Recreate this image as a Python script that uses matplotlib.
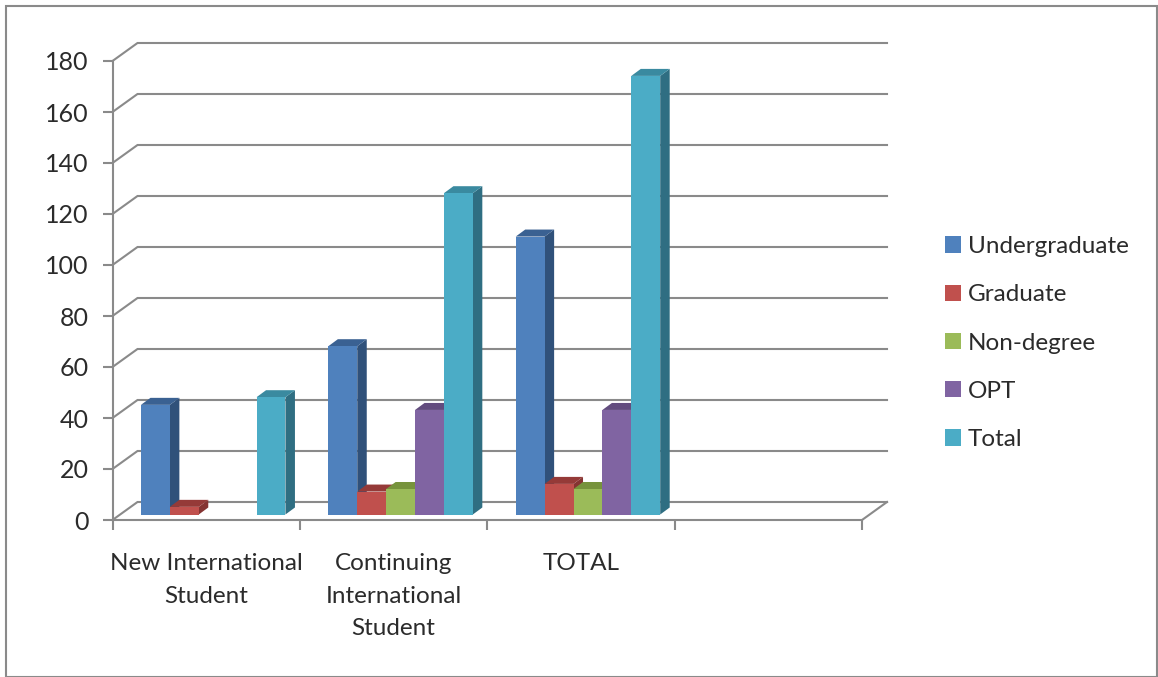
import matplotlib
matplotlib.use('Agg')
from matplotlib import pyplot as plt
from matplotlib.patches import Polygon, Rectangle, Patch

plt.rcParams['font.family'] = ['Lato', 'DejaVu Sans']

categories = ['New International\nStudent', 'Continuing\nInternational\nStudent', 'TOTAL']
series = ['Undergraduate', 'Graduate', 'Non-degree', 'OPT', 'Total']
undergraduate = [43, 66, 109]
graduate = [3, 9, 12]
non_degree = [0, 10, 10]
opt = [0, 41, 41]
total = [46, 126, 172]
y_ticks = list(range(0, 181, 20))

front_colors = ['#4F81BD', '#C0504D', '#9BBB59', '#8064A2', '#4BACC6']
side_colors = ['#30517A', '#853432', '#66803A', '#56436F', '#2F6E82']
top_colors = ['#3A6192', '#953A38', '#77933C', '#624C7E', '#3A8AA0']
GRAY = '#8A8A8A'
TEXT = '#2b2b2b'

W, H = 1158, 677
fig = plt.figure(figsize=(W / 100, H / 100), dpi=100, facecolor='white')
ax = fig.add_axes([112.5 / W, 157 / H, 749.5 / W, 459 / H])
ax.set_xlim(0, 4)
ax.set_ylim(0, 180)

# pixel sizes turned into data units
px_x = 4 / 749.5
px_y = 180 / 459
wall_dx, wall_dy = 25 * px_x, 18 * px_y
bar_dx, bar_dy = 9.5 * px_x, 7 * px_y
floor = 5.5 * px_y
bar_w = 0.1542
start = 0.152

# back wall gridlines and the slanted bits on the left
for t in y_ticks:
    ax.plot([0, wall_dx, 4 + wall_dx], [t, t + wall_dy, t + wall_dy],
            color=GRAY, lw=1.5, clip_on=False, zorder=1, solid_joinstyle='miter')
ax.plot([4, 4 + wall_dx], [0, wall_dy], color=GRAY, lw=1.5, clip_on=False, zorder=1)

# bars go left to right so the next front face hides the previous side
data = [undergraduate, graduate, non_degree, opt, total]
z = 2
for c in range(len(categories)):
    for s in range(len(series)):
        v = data[s][c]
        if v == 0:
            continue
        x0 = c + start + s * bar_w
        x1 = x0 + bar_w
        y0 = floor
        y1 = floor + v
        ax.add_patch(Polygon([(x1, y0), (x1 + bar_dx, y0 + bar_dy), (x1 + bar_dx, y1 + bar_dy), (x1, y1)],
                             closed=True, fc=side_colors[s], ec='none', zorder=z))
        ax.add_patch(Polygon([(x0, y1), (x0 + bar_dx, y1 + bar_dy), (x1 + bar_dx, y1 + bar_dy), (x1, y1)],
                             closed=True, fc=top_colors[s], ec='none', zorder=z))
        ax.bar(x0, v, bar_w, bottom=floor, align='edge', color=front_colors[s], zorder=z + 0.5)
        z += 1

for name in ['top', 'right']:
    ax.spines[name].set_visible(False)
for name in ['left', 'bottom']:
    ax.spines[name].set_color(GRAY)
    ax.spines[name].set_linewidth(1.5)
    ax.spines[name].set_zorder(z + 1)

ax.set_yticks(y_ticks)
ax.tick_params(axis='y', length=7, width=1.5, color=GRAY, pad=10, labelsize=18, labelcolor=TEXT)
ax.set_xticks(range(5))
ax.set_xticklabels([])
ax.tick_params(axis='x', which='major', length=7, width=1.5, color=GRAY)
ax.set_xticks([0.5, 1.5, 2.5], minor=True)
ax.set_xticklabels(categories, minor=True, fontsize=17.5, color=TEXT, linespacing=1.66)
ax.tick_params(axis='x', which='minor', length=0, pad=24)

handles = [Patch(fc=col, ec='none', label=lab) for col, lab in zip(front_colors, series)]
fig.legend(handles=handles, loc='center left', bbox_to_anchor=(945 / W, (H - 343) / H),
           frameon=False, fontsize=17.5, labelcolor=TEXT, labelspacing=1.12,
           borderpad=0, borderaxespad=0,
           handlelength=0.66, handleheight=0.66, handletextpad=0.29)

# outer chart frame
fig.add_artist(Rectangle((5.5 / W, 0.5 / H), (W - 6.5) / W, (H - 6) / H, transform=fig.transFigure,
                         fill=False, ec=GRAY, lw=1.5))

fig.savefig('out.png', dpi=100)
